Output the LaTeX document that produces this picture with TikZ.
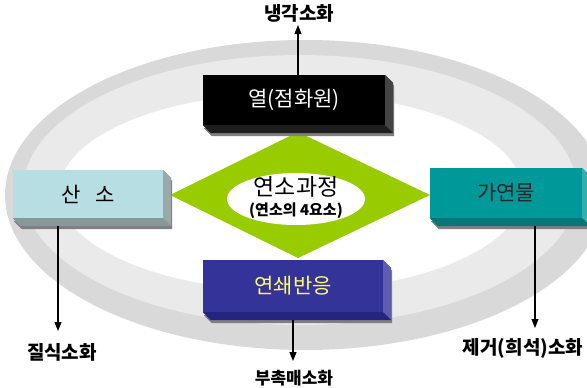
\documentclass[tikz,border=0pt]{standalone}
\usepackage{fontspec}
\setmainfont{Noto Sans CJK KR}
\usetikzlibrary{arrows.meta,calc,shapes.geometric}
\definecolor{ringdark}{HTML}{D9D9D9}
\definecolor{ringlight}{HTML}{EAEAEA}
\definecolor{dgreen}{HTML}{99CC00}
\definecolor{oxface}{HTML}{B7DEE2}
\definecolor{oxside}{HTML}{9AA8AA}
\definecolor{oxbot}{HTML}{8A9799}
\definecolor{fuface}{HTML}{009999}
\definecolor{fuside}{HTML}{33ADAD}
\definecolor{fubot}{HTML}{0A7575}
\definecolor{chface}{HTML}{333399}
\definecolor{chside}{HTML}{5C5CB0}
\definecolor{chbot}{HTML}{252580}
\definecolor{htside}{HTML}{444444}
\definecolor{htbot}{HTML}{1E1E1E}
\definecolor{shadowgray}{HTML}{7F7F7F}
\definecolor{chtext}{HTML}{FFFF66}
\newcommand\extrudebox[3]{%
  \fill[shadowgray] ($(#1.north east)+(1,3)$) -- ($(#1.north east)+(9,11)$) -- ($(#1.south east)+(9,11)$) -- ($(#1.south west)+(9,11)$) -- ($(#1.south west)+(1,3)$) -- ($(#1.south east)+(1,3)$) -- cycle;
  \fill[#2] (#1.north east) -- ($(#1.north east)+(8,8)$) -- ($(#1.south east)+(8,8)$) -- (#1.south east) -- cycle;
  \fill[#3] (#1.south west) -- (#1.south east) -- ($(#1.south east)+(8,8)$) -- ($(#1.south west)+(8,8)$) -- cycle;
}
\tikzset{
  face/.style={rectangle, inner sep=0pt, font=\fontsize{21}{24}\selectfont},
  arr/.style={draw=black, line width=1.1pt, -{Triangle[length=9pt,width=7pt]}},
  lab/.style={inner sep=0pt, font=\fontsize{19}{22}\selectfont\bfseries},
}
\begin{document}
\begin{tikzpicture}[x=1pt,y=-1pt]
\useasboundingbox (0,0) rectangle (587,388);
\clip (0,0) rectangle (587,388);
% rings
\fill[ringdark] (305,195) ellipse [x radius=300, y radius=155];
\fill[ringlight] (300,190) ellipse [x radius=277, y radius=135];
\fill[white] (291,192) ellipse [x radius=232, y radius=99];
% diamond
\fill[dgreen] (170,195) -- (298,132) -- (430,195) -- (298,258) -- cycle;
\node[ellipse, fill=white, minimum width=138pt, minimum height=52pt, inner sep=0pt] (proc) at (296,199) {};
\node[inner sep=0pt, font=\fontsize{23}{26}\selectfont] (proct) at (296,187) {연소과정};
\node[inner sep=0pt, font=\fontsize{15}{17}\selectfont\bfseries] (procs) at (296,211) {(연소의 4요소)};
% boxes
\node[face, fill=black, text=white, minimum width=182pt, minimum height=50pt] (heat) at (294,100) {열(점화원)};
\extrudebox{heat}{htside}{htbot}
\node[face, fill=oxface, text=black, minimum width=150pt, minimum height=48pt] (ox) at (88,194) {산\hspace{15pt}소};
\extrudebox{ox}{oxside}{oxbot}
\node[face, fill=fuface, text=black!85, minimum width=152pt, minimum height=50pt] (fuel) at (506,193) {가연물};
\extrudebox{fuel}{fuside}{fubot}
\node[face, fill=chface, text=chtext, minimum width=180pt, minimum height=52pt] (chain) at (293,286) {연쇄반응};
\extrudebox{chain}{chside}{chbot}
% labels
\node[lab] (cool) at (299,13) {냉각소화};
\node[lab] (smother) at (62,352) {질식소화};
\node[lab] (remove) at (523,348) {제거(희석)소화};
\node[lab, font=\fontsize{17}{20}\selectfont\bfseries] (inhib) at (294,378) {부촉매소화};
\coordinate (cooltip) at (298,25);
\coordinate (smtip) at (58,331);
\coordinate (retip) at (535,328);
\coordinate (intip) at (293,361);
% arrows
\draw[arr] (cooltip |- heat.north) -- (cooltip);
\draw[arr] (smtip |- ox.south) ++(0,8) -- (smtip);
\draw[arr] (retip |- fuel.south) ++(0,8) -- (retip);
\draw[arr] (intip |- chain.south) ++(0,8) -- (intip);
\end{tikzpicture}
\end{document}
